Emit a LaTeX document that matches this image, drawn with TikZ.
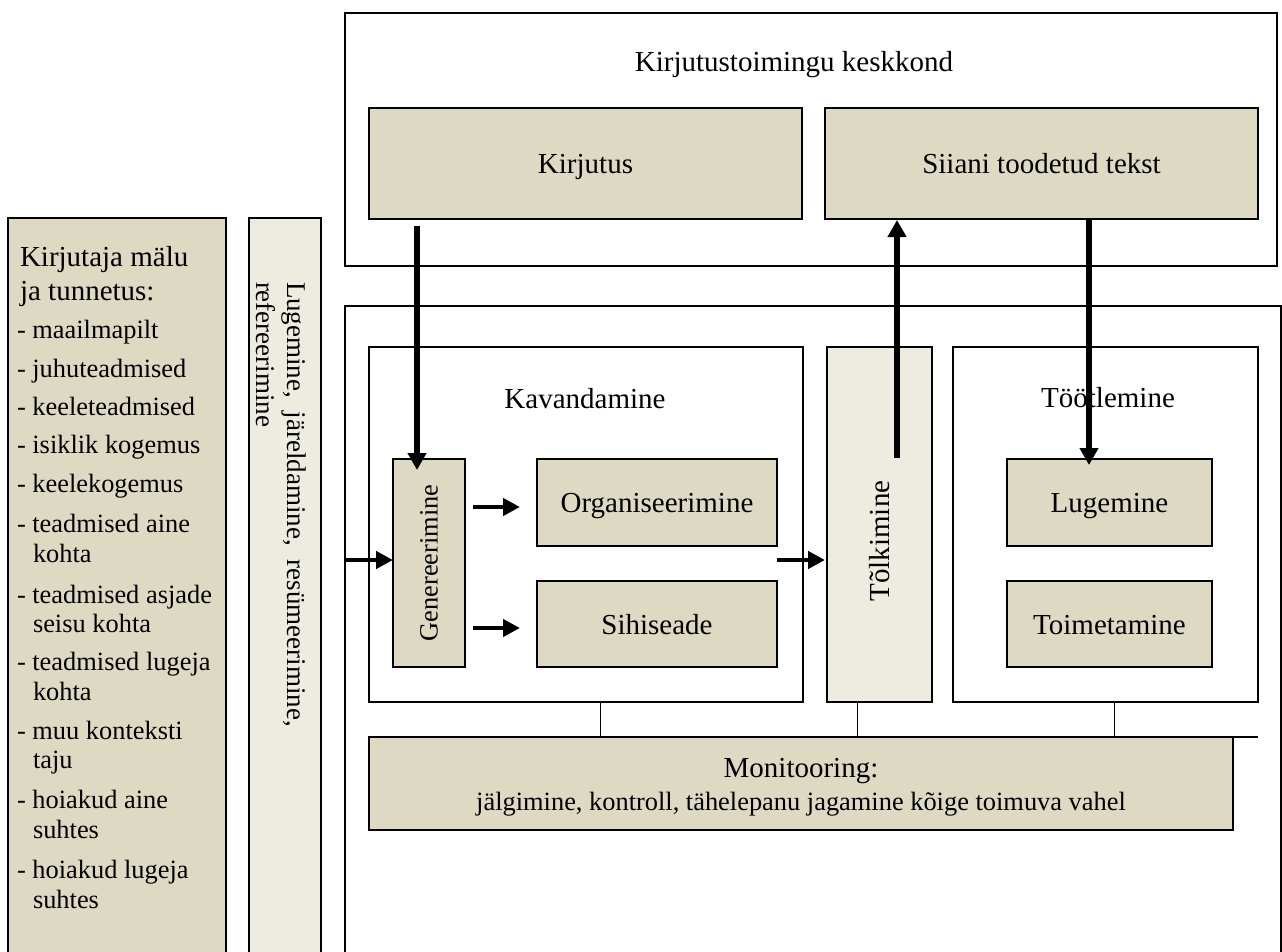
\documentclass[tikz,border=0pt]{standalone}
\usepackage{fontspec}
\setmainfont{Liberation Serif}
\usetikzlibrary{arrows.meta,calc}
\definecolor{tanfill}{HTML}{DDD9C3}
\definecolor{lightfill}{HTML}{EEECE1}
\begin{document}
\begin{tikzpicture}[x=1pt,y=-1pt,
  box/.style={draw, line width=2pt, inner sep=0pt, outer sep=0pt, anchor=north west},
  tanbox/.style={box, fill=tanfill},
  lightbox/.style={box, fill=lightfill},
  whitebox/.style={box, fill=white},
  big/.style={font=\fontsize{29pt}{33pt}\selectfont},
  mid/.style={font=\fontsize{26.4pt}{30pt}\selectfont},
  strp/.style={font=\fontsize{27pt}{31pt}\selectfont},
  lbl/.style={text height=20pt, text depth=0pt},
  txt/.style={inner sep=0pt, outer sep=0pt},
  arr/.style={line width=5.5pt, -{Triangle[length=17pt,width=18pt]}},
  harr/.style={line width=4.5pt, -{Triangle[length=17pt,width=17pt]}},
  thinline/.style={line width=1pt}]
\useasboundingbox (0,0) rectangle (1282,952);

% upper environment box
\node[whitebox, minimum width=932pt, minimum height=253pt] (env) at (345,13) {};
\node[big, txt, anchor=base] (envtitle) at (794,72) {Kirjutustoimingu keskkond};
\node[tanbox, big, lbl, minimum width=433pt, minimum height=111pt] (kir) at (369,108) {Kirjutus};
\node[tanbox, big, lbl, minimum width=433pt, minimum height=111pt] (sii) at (825,108) {Siiani toodetud tekst};

% left memory panel
\node[tanbox, minimum width=218pt, minimum height=745pt] (mem) at (8,218) {};
\node[big, txt, anchor=base west] (memh1) at (20,266) {Kirjutaja mälu};
\node[big, txt, anchor=base west] (memh2) at (20,300) {ja tunnetus:};
\foreach \yy/\xx/\itm [count=\i] in {338/17/- maailmapilt, 377/17/- juhuteadmised, 415/17/- keeleteadmised, 453/17/- isiklik kogemus, 492/17/- keelekogemus, 532/17/- teadmised aine, 562/33/kohta, 603/17/- teadmised asjade, 632/33/seisu kohta, 670/17/- teadmised lugeja, 700/33/kohta, 739/17/- muu konteksti, 768/33/taju, 808/17/- hoiakud aine, 838/33/suhtes, 878/17/- hoiakud lugeja, 908/33/suhtes}
  \node[mid, txt, anchor=base west] (mem\i) at (\xx,\yy) {\itm};

% vertical strip
\node[lightbox, minimum width=72pt, minimum height=745pt] (strip) at (249,218) {};
\node[strp, txt, rotate=-90, anchor=base west] (str1) at (287,282) {\hbox to 445pt{Lugemine,\hfill järeldamine,\hfill resümeerimine,}};
\node[strp, txt, rotate=-90, anchor=base west] (str2) at (256,282) {refereerimine};

% lower process box
\node[whitebox, minimum width=936pt, minimum height=660pt] (proc) at (345,306) {};

\node[whitebox, minimum width=434pt, minimum height=355pt] (kav) at (369,347) {};
\node[big, txt, anchor=base] (kavtxt) at (585,408) {Kavandamine};
\node[tanbox, minimum width=72pt, minimum height=208pt] (gen) at (393,459) {};
\node[mid, txt, rotate=90] (gentxt) at (gen.center) {Genereerimine};
\node[tanbox, big, lbl, minimum width=240pt, minimum height=87pt] (org) at (537,459) {Organiseerimine};
\node[tanbox, big, lbl, minimum width=240pt, minimum height=86pt] (sih) at (537,581) {Sihiseade};

\node[lightbox, minimum width=105pt, minimum height=355pt] (tol) at (827,347) {};
\node[big, txt, rotate=90] (toltxt) at ($(tol.center)+(0,16.5)$) {Tõlkimine};

\node[whitebox, minimum width=305pt, minimum height=355pt] (too) at (953,347) {};
\node[big, txt, anchor=base] (tootxt) at (1108,407) {Töötlemine};
\node[tanbox, big, lbl, minimum width=205pt, minimum height=87pt] (lug) at (1007,459) {Lugemine};
\node[tanbox, big, lbl, minimum width=205pt, minimum height=86pt] (toi) at (1007,581) {Toimetamine};

\node[tanbox, minimum width=864pt, minimum height=93pt] (mon) at (369,737) {};
\node[big, txt, anchor=base] (montitle) at (801,777) {Monitooring:};
\node[mid, txt, anchor=base] (montext) at (801,810) {jälgimine, kontroll, tähelepanu jagamine kõige toimuva vahel};

% thin connectors to monitoring
\draw[thinline] ($(kav.south west)+(231,0)$) -- ($(mon.north west)+(231,0)$);
\draw[thinline] ($(tol.south west)+(30,0)$) -- ($(mon.north west)+(488,0)$);
\draw[thinline] ($(too.south west)+(161,0)$) -- ($(mon.north west)+(745,0)$);
\draw[line width=2pt] (mon.north east) -- ($(mon.north east)+(25,0)$);

% arrows
\draw[arr] ($(kir.south west)+(48,7)$) -- ($(gen.north west)+(24,11)$);
\draw[harr] ($(gen.east)+(8,-56)$) -- ($(org.west)+(-17,4.5)$);
\draw[harr] ($(gen.east)+(8,65)$) -- ($(sih.west)+(-17,4)$);
\draw[harr] ($(gen.west -| proc.west)+(0,-3)$) -- ($(gen.west)+(0,-3)$);
\draw[harr] ($(org.south east)+(0,14)$) -- ($(tol.west)+(-2,35.5)$);
\draw[arr] ($(tol.north west)+(70,111)$) -- ($(sii.south west)+(72,1)$);
\draw[arr] ($(sii.south west)+(264,0)$) -- ($(lug.north west)+(82,6)$);
\end{tikzpicture}
\end{document}
